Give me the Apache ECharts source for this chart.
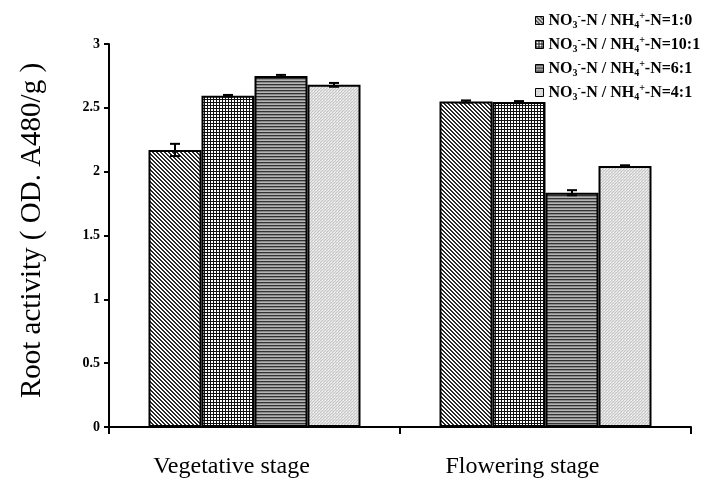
<!DOCTYPE html>
<html><head><meta charset="utf-8">
<script src="https://cdn.jsdelivr.net/npm/echarts@6/dist/echarts.min.js"></script>
<style>html,body{margin:0;padding:0;background:#fff}#c{width:717px;height:481px}</style>
</head><body><div id="c"></div>
<script>
const categories = ['Vegetative stage', 'Flowering stage'];
const ratios = ['1:0', '10:1', '6:1', '4:1'];
const s1 = [2.17, 2.55];
const s2 = [2.595, 2.545];
const s3 = [2.75, 1.835];
const s4 = [2.68, 2.045];
const e1 = [0.048, 0.008];
const e2 = [0.006, 0.008];
const e3 = [0.008, 0.02];
const e4 = [0.015, 0.005];
const yTicks = [0, 0.5, 1, 1.5, 2, 2.5, 3];

const FONT = "'Liberation Serif','Times New Roman',serif";

function tile(w, h, fn) {
  const c = document.createElement('canvas');
  c.width = w; c.height = h;
  const ctx = c.getContext('2d');
  for (let y = 0; y < h; y++) for (let x = 0; x < w; x++) {
    ctx.fillStyle = fn(x, y);
    ctx.fillRect(x, y, 1, 1);
  }
  return c;
}
const pat1 = tile(4, 4, (x, y) => (((x - y) % 4 + 4) % 4 < 2) ? '#2a2a2a' : '#ffffff');
const pat2 = tile(3, 3, (x, y) => (x === 0 || y === 0) ? '#111111' : '#ffffff');
const pat3 = tile(1, 3, (x, y) => ['#333333', '#8a8a8a', '#b5b5b5'][y]);
const pat4 = tile(3, 3, (x, y) => ((x + y) % 3 === 0) ? '#c4c4c4' : ((x === 1 && y === 1) ? '#f4f4f4' : '#e2e2e2'));
const patterns = [pat1, pat2, pat3, pat4];
const vals = [s1, s2, s3, s4];
const errs = [e1, e2, e3, e4];

const chart = echarts.init(document.getElementById('c'), null, {renderer: 'canvas'});

const series = [];
vals.forEach((v, i) => {
  series.push({
    type: 'bar',
    name: ratios[i],
    data: v,
    barWidth: 53,
    barGap: '0%',
    itemStyle: {color: {image: patterns[i], repeat: 'repeat'}, borderColor: '#000', borderWidth: 2},
    z: 2
  });
});
const errData = [];
vals.forEach((v, i) => v.forEach((val, j) => errData.push([j, i, val, errs[i][j]])));
series.push({
  type: 'custom',
  name: 'err',
  z: 5,
  renderItem: function (params, api) {
    const cat = api.value(0), si = api.value(1), val = api.value(2), er = api.value(3);
    const bw = 53;
    const groupW = bw * 4;
    const base = api.coord([cat, 0]);
    const cx = base[0] - groupW / 2 + bw * (si + 0.5);
    const top = api.coord([cat, val + er])[1];
    const bot = api.coord([cat, val - er])[1];
    const hw = 5;
    const st = {stroke: '#000', lineWidth: 2};
    return {type: 'group', children: [
      {type: 'line', shape: {x1: cx, y1: top, x2: cx, y2: bot}, style: st},
      {type: 'line', shape: {x1: cx - hw, y1: top, x2: cx + hw, y2: top}, style: st},
      {type: 'line', shape: {x1: cx - hw, y1: bot, x2: cx + hw, y2: bot}, style: st}
    ]};
  },
  data: errData,
  encode: {x: 0, y: 2}
});

chart.setOption({
  animation: false,
  backgroundColor: '#fff',
  grid: {left: 109, right: 26, top: 44, bottom: 54},
  legend: {
    data: ratios,
    orient: 'vertical',
    left: 530, top: 6,
    itemWidth: 8, itemHeight: 8, itemGap: 5,
    icon: 'rect',
    itemStyle: {borderColor: '#000', borderWidth: 1},
    formatter: n => '{a|NO}{sub|3}{sup|-}{a|-N / NH}{sub|4}{sup|+}{a|-N=' + n + '}',
    textStyle: {
      fontFamily: FONT, fontWeight: 'bold', fontSize: 16, color: '#000',
      rich: {
        a: {fontFamily: FONT, fontWeight: 'bold', fontSize: 16, lineHeight: 19, color: '#000'},
        sub: {fontFamily: FONT, fontWeight: 'bold', fontSize: 10, lineHeight: 10, verticalAlign: 'bottom', color: '#000'},
        sup: {fontFamily: FONT, fontWeight: 'bold', fontSize: 10, lineHeight: 10, verticalAlign: 'top', color: '#000'}
      }
    }
  },
  xAxis: {
    type: 'category',
    data: categories,
    boundaryGap: true,
    axisLine: {lineStyle: {color: '#000', width: 2}},
    axisTick: {show: true, length: 7, lineStyle: {color: '#000', width: 2}},
    axisLabel: {fontFamily: FONT, fontSize: 24, color: '#000', margin: 28, padding: [0, 46, 0, 0]},
    splitLine: {show: false}
  },
  yAxis: {
    type: 'value',
    min: 0, max: 3, interval: 0.5,
    name: 'Root activity ( OD. A480/g )',
    nameLocation: 'middle',
    nameGap: 62,
    nameTextStyle: {fontFamily: FONT, fontSize: 29, color: '#000', padding: [0, 0, 0, 10]},
    axisLine: {show: true, lineStyle: {color: '#000', width: 2}},
    axisTick: {show: true, length: 5, lineStyle: {color: '#000', width: 2}},
    axisLabel: {fontFamily: FONT, fontWeight: 'bold', fontSize: 14, color: '#000', margin: 9,
      formatter: v => yTicks.indexOf(v) >= 0 ? String(v) : ''},
    splitLine: {show: false}
  },
  series: series
});
</script></body></html>
